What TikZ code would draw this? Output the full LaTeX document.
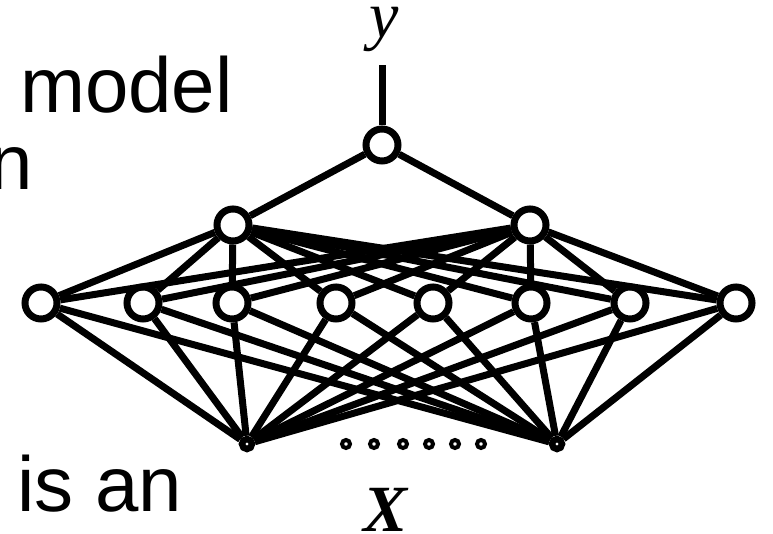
\documentclass[tikz,border=0pt]{standalone}
\usepackage{fontspec}
\setmainfont{Liberation Serif}
\newfontfamily\slidefont{Liberation Sans}
\usetikzlibrary{positioning}

\begin{document}
\begin{tikzpicture}[x=1pt,y=1pt,
  unit/.style={circle,draw,line width=7pt,fill=white,minimum size=32pt,inner sep=0pt},
  inunit/.style={circle,draw,line width=6.5pt,fill=white,minimum size=10pt,inner sep=0pt},
  dotunit/.style={circle,draw,line width=4pt,fill=white,minimum size=8pt,inner sep=0pt},
  wire/.style={line width=7pt},
  slide/.style={font=\slidefont\fontsize{78}{80}\selectfont,inner sep=0pt},
  var/.style={font=\fontsize{66}{70}\selectfont,inner sep=0pt}]
\clip (0,0) rectangle (773,534);

% slide text behind the net
\node[slide,anchor=base west] (txt1) at (20,421) {model};
\node[slide,anchor=base east] (txt2) at (33,344) {n};
\node[slide,anchor=base west] (txt3) at (17,22) {is an};

% units
\node[unit] (out) at (382,389) {};
\node[unit] (h1) at (233,309) {};
\node[unit] (h2) at (530,309) {};
\foreach \x [count=\i] in {41,143,232,336,433,531,630,736}
  \node[unit] (v\i) at (\x,231) {};
\node[inunit] (in1) at (247,90) {};
\node[inunit] (in2) at (557,90) {};
\foreach \x [count=\i] in {346,374,403,429,455,481}
  \node[dotunit] (d\i) at (\x,90) {};

% output and input labels
\coordinate (ytop) at (382,469);
\node[var,anchor=base] (ylab) at (384,496) {\textit{y}};
\node[var,anchor=base] (xlab) at (386,2) {\textbf{\textit{X}}};

% connections
\draw[wire] (out) -- (ytop);
\foreach \h in {h1,h2} {
  \draw[wire] (out) -- (\h);
  \foreach \i in {1,...,8}
    \draw[wire] (\h) -- (v\i);
}
\foreach \i in {1,...,8}
  \foreach \b in {in1,in2}
    \draw[wire] (v\i) -- (\b);
\end{tikzpicture}
\end{document}
